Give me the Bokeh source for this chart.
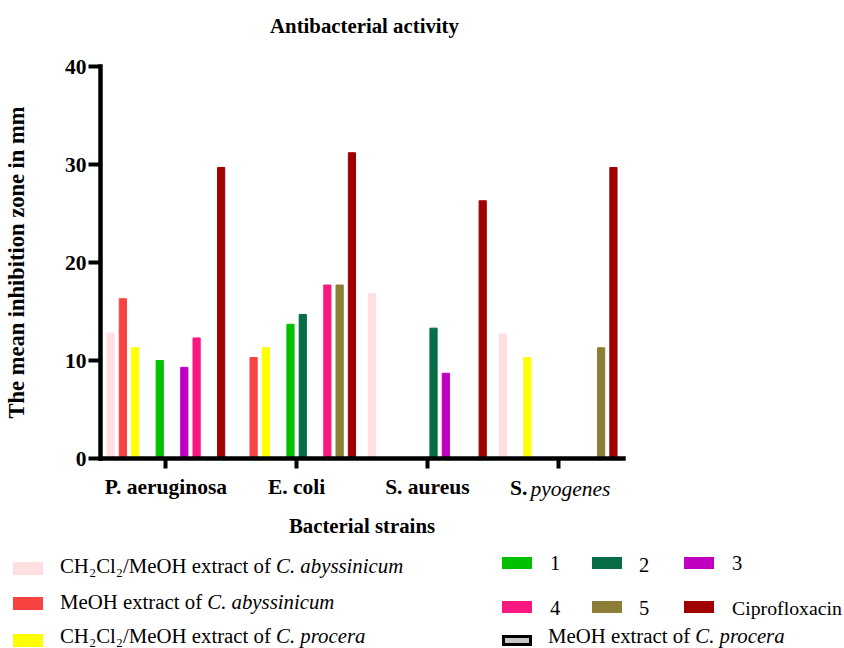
from bokeh.plotting import figure
from bokeh.models import Range1d, Div, ColumnDataSource, FixedTicker, LinearAxis
from bokeh.transform import dodge
from bokeh.layouts import column
from bokeh.embed import file_html
from bokeh.resources import INLINE

# ---------------- data ----------------
strains = ["P. aeruginosa", "E. coli", "S. aureus", "S. pyogenes"]

ch2cl2_abys = [12.8, 0, 16.8, 12.7]
meoh_abys = [16.3, 10.3, 0, 0]
ch2cl2_procera = [11.3, 11.3, 0, 10.3]
meoh_procera = [0, 0, 0, 0]
comp1 = [10.0, 13.7, 0, 0]
comp2 = [0, 14.7, 13.3, 0]
comp3 = [9.3, 0, 8.7, 0]
comp4 = [12.3, 17.7, 0, 0]
comp5 = [0, 17.7, 0, 11.3]
cipro = [29.7, 31.2, 26.3, 29.7]

series = [ch2cl2_abys, meoh_abys, ch2cl2_procera, meoh_procera,
          comp1, comp2, comp3, comp4, comp5, cipro]
series_labels = [
    "CH₂Cl₂/MeOH extract of <i>C. abyssinicum</i>",
    "MeOH extract of <i>C. abyssinicum</i>",
    "CH₂Cl₂/MeOH extract of <i>C. procera</i>",
    "MeOH extract of <i>C. procera</i>",
    "1", "2", "3", "4", "5", "Ciprofloxacin",
]
colors = ["#FFDFDF", "#F94343", "#FFFF00", "#C8C8C8",
          "#00C000", "#066D46", "#C000C0", "#F8187F", "#8C7D37", "#A00000"]

y_ticks = [0, 10, 20, 30, 40]

# ---------------- layout constants ----------------
FONT = "Liberation Serif"
W = 828
BL, BR, BT, BB = 96, 205, 26, 89
FRAME_H = 392
H = BT + FRAME_H + BB
TITLE_H = 30
LEG_H = 632 - TITLE_H - H
DX, DY = 3, -5

# ---------------- title ----------------
title_div = Div(text=(
    f'<div style="position:relative;width:{W}px;height:{TITLE_H}px">'
    f'<div style="position:absolute;left:{BL}px;top:9px;width:{W - BL - BR}px;'
    f'text-align:center;font-family:\'{FONT}\';font-size:20.8px;font-weight:bold;'
    f'line-height:24px;color:black">Antibacterial activity</div></div>'),
    width=W, height=TITLE_H)

# ---------------- figure ----------------
p = figure(x_range=Range1d(0, len(strains)), y_range=Range1d(0, 40),
           width=W, height=H, output_backend="svg", toolbar_location=None,
           x_axis_location=None,
           min_border_left=BL, min_border_right=BR, min_border_top=BT,
           min_border_bottom=BB)
p.outline_line_color = None
p.xgrid.visible = False
p.ygrid.visible = False

centers = [i + 0.5 for i in range(len(strains))]

n = len(series)
step = 0.094
for i, (vals, col) in enumerate(zip(series, colors)):
    xs = [c for c, v in zip(centers, vals) if v > 0]
    ys = [v for v in vals if v > 0]
    if not xs:
        continue
    src = ColumnDataSource(dict(xc=xs, val=ys))
    off = (i - (n - 1) / 2) * step
    p.vbar(x=dodge("xc", off), top="val", width=0.055,
           source=src, fill_color=col, line_color=col, line_width=1)

TICK_FS = "21.5px"
HL = 26  # approx. tick label box height

def style_axis(ax, style="bold"):
    ax.axis_line_width = 4.5
    ax.axis_line_color = "black"
    ax.axis_line_cap = "square"
    ax.major_tick_line_width = 4
    ax.major_tick_line_color = "black"
    ax.major_tick_in = 0
    ax.minor_tick_out = 0
    ax.minor_tick_in = 0
    ax.major_label_text_font = FONT
    ax.major_label_text_font_size = TICK_FS
    ax.major_label_text_font_style = style
    ax.major_label_text_color = "black"
    ax.axis_label_text_font = FONT
    ax.axis_label_text_font_style = "bold"
    ax.axis_label_text_color = "black"

yax = p.yaxis[0]
style_axis(yax)
yax.ticker = FixedTicker(ticks=y_ticks, minor_ticks=[])
yax.major_tick_out = 12
yax.major_label_standoff = 2
yax.axis_label = "The mean inhibition zone in mm"
yax.axis_label_text_font_size = "22.5px"
yax.axis_label_standoff = 33

first, rest = strains[3].split(" ", 1)

# main x axis: line, ticks and plain bold labels
ax_main = LinearAxis(ticker=FixedTicker(ticks=centers, minor_ticks=[]))
style_axis(ax_main)
ax_main.major_tick_out = 10
ax_main.major_label_standoff = 6
ax_main.major_label_overrides = {c: (s if k < 3 else "") for k, (c, s) in enumerate(zip(centers, strains))}
p.add_layout(ax_main, "below")

# "S." (bold) and "pyogenes" (italic) on the same row
s_pos = centers[3] - 0.301
p_pos = centers[3] + 0.094
ax_s = LinearAxis(ticker=FixedTicker(ticks=[s_pos], minor_ticks=[]))
style_axis(ax_s)
ax_s.axis_line_color = None
ax_s.major_tick_line_color = None
ax_s.major_tick_out = 0
ax_s.major_label_standoff = -HL
ax_s.major_label_overrides = {s_pos: first}
p.add_layout(ax_s, "below")

ax_p = LinearAxis(ticker=FixedTicker(ticks=[p_pos], minor_ticks=[]))
style_axis(ax_p, "italic")
ax_p.axis_line_color = None
ax_p.major_tick_line_color = None
ax_p.major_tick_out = 0
ax_p.major_label_standoff = -HL
ax_p.major_label_overrides = {p_pos: rest}
ax_p.axis_label = "Bacterial strains"
ax_p.axis_label_text_font_size = "20.8px"
ax_p.axis_label_standoff = 10
p.add_layout(ax_p, "below")

# ---------------- legend (HTML) ----------------
# (swatch left, swatch top, swatch height, text left, text top, font size)
pos = [
    (5, 15, 13, 52, 11.3, 20.8),
    (5, 50, 13, 52, 47.3, 20.8),
    (5, 87, 13, 52, 81.3, 20.8),
    (494, 88, 11, 540, 80.8, 20.8),
    (494, 10, 12, 542, 7.8, 20.5),
    (584, 10, 12, 631, 9.8, 20.5),
    (676, 10, 12, 724, 7.8, 20.5),
    (494, 54, 12, 542, 53.3, 20.5),
    (584, 54, 12, 631, 53.3, 20.5),
    (676, 54, 12, 724, 53.3, 19.8),
]
parts = []
for k, (lab, (sx, sy, sh, tx, ty, fs)) in enumerate(zip(series_labels, pos)):
    col = colors[k]
    border = "box-sizing:border-box;border:3px solid black;" if k == 3 else ""
    parts.append(f'<div style="position:absolute;left:{sx + DX}px;top:{sy + DY}px;width:30px;'
                 f'height:{sh}px;{border}background:{col}"></div>')
    parts.append(f'<div style="position:absolute;left:{tx + DX}px;top:{ty + DY}px;white-space:nowrap;'
                 f'font-family:\'{FONT}\';font-size:{fs}px;line-height:16px;color:black">{lab}</div>')

legend_html = (f'<div style="position:relative;width:{W}px;height:{LEG_H}px">'
               + "".join(parts) + "</div>")
leg = Div(text=legend_html, width=W, height=LEG_H)

layout = column(title_div, p, leg, spacing=0)
open("out.html", "w").write(file_html(layout, INLINE))
